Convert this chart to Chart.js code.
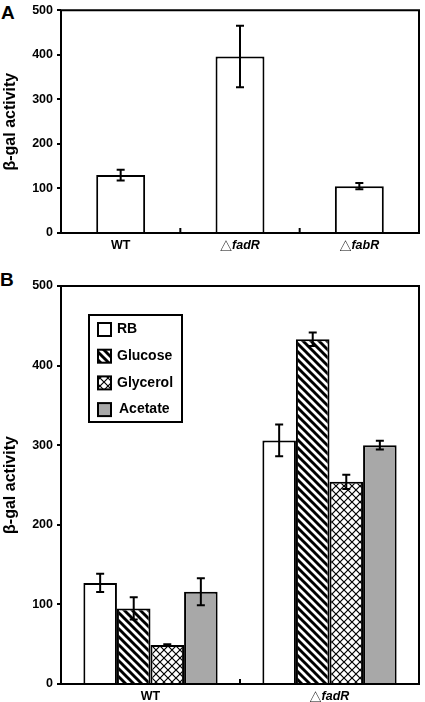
<!DOCTYPE html>
<html>
<head>
<meta charset="utf-8">
<script src="https://cdn.jsdelivr.net/npm/chart.js@4/dist/chart.umd.min.js"></script>
<style>
  body { margin: 0; background: #fff; width: 425px; height: 702px; position: relative; overflow: hidden; }
  canvas { position: absolute; left: 0; }
  #chartA { top: 0; }
  #chartB { top: 262px; }
  .panel { position: absolute; font: bold 19px "Liberation Sans", Arial, sans-serif; line-height: 19px; color: #000; }
</style>
</head>
<body>
<div class="panel" style="left:1px; top:3px;">A</div>
<div class="panel" style="left:0px; top:270px;">B</div>
<canvas id="chartA" width="425" height="265"></canvas>
<canvas id="chartB" width="425" height="440"></canvas>
<script>
// Panel A data
const categoriesA = ['WT', '△fadR', '△fabR'];
const activityA = [130, 396, 105];
const errorA = [12, 69, 7];

// Panel B data
const categoriesB = ['WT', '△fadR'];
const sourceLabels = ['RB', 'Glucose', 'Glycerol', 'Acetate'];
const rbValues = [127, 306];
const rbErrors = [11.5, 20];
const glucoseValues = [95, 433];
const glucoseErrors = [14, 8.5];
const glycerolValues = [49, 254];
const glycerolErrors = [1, 9];
const acetateValues = [116, 300];
const acetateErrors = [17, 5.5];

const yMin = 0, yMax = 500, yStep = 100;

const FONT = '"Liberation Sans", Arial, sans-serif';

// fill patterns
function stripePattern() {
  const s = 8;
  const c = document.createElement('canvas');
  c.width = s; c.height = s;
  const g = c.getContext('2d');
  g.fillStyle = '#fff';
  g.fillRect(0, 0, s, s);
  g.strokeStyle = '#000';
  g.lineWidth = 2.9;
  g.beginPath();
  g.moveTo(-3, -3); g.lineTo(s + 3, s + 3);
  g.moveTo(-3, s - 3); g.lineTo(3, s + 3);
  g.moveTo(s - 3, -3); g.lineTo(s + 3, 3);
  g.stroke();
  return g.createPattern(c, 'repeat');
}

function crossPattern() {
  const s = 8;
  const c = document.createElement('canvas');
  c.width = s; c.height = s;
  const g = c.getContext('2d');
  g.fillStyle = '#fff';
  g.fillRect(0, 0, s, s);
  g.strokeStyle = '#000';
  g.lineWidth = 1.2;
  g.beginPath();
  g.moveTo(0, 0); g.lineTo(s, s);
  g.moveTo(s, 0); g.lineTo(0, s);
  g.stroke();
  return g.createPattern(c, 'repeat');
}

// error bars, plot frame and small ticks between groups
const extras = {
  id: 'extras',
  afterDatasetsDraw(chart) {
    const ctx = chart.ctx;
    const y = chart.scales.y;
    const x = chart.scales.x;
    const area = chart.chartArea;
    ctx.save();
    ctx.strokeStyle = '#000';
    ctx.lineWidth = 2;
    chart.data.datasets.forEach((ds, di) => {
      const meta = chart.getDatasetMeta(di);
      meta.data.forEach((bar, i) => {
        const v = ds.data[i], e = ds.errors[i];
        const top = y.getPixelForValue(v + e);
        const bot = y.getPixelForValue(v - e);
        ctx.beginPath();
        ctx.moveTo(bar.x, top); ctx.lineTo(bar.x, bot);
        ctx.moveTo(bar.x - 4, top); ctx.lineTo(bar.x + 4, top);
        ctx.moveTo(bar.x - 4, bot); ctx.lineTo(bar.x + 4, bot);
        ctx.stroke();
      });
    });
    // frame
    ctx.strokeRect(area.left, area.top, area.right - area.left, area.bottom - area.top);
    // inner ticks between categories
    const n = chart.data.labels.length;
    for (let i = 1; i < n; i++) {
      const px = (x.getPixelForTick(i - 1) + x.getPixelForTick(i)) / 2;
      ctx.beginPath();
      ctx.moveTo(px, area.bottom);
      ctx.lineTo(px, area.bottom - 5);
      ctx.stroke();
    }
    // category labels, triangle plain and gene name bold italic
    ctx.fillStyle = '#000';
    ctx.textBaseline = 'middle';
    ctx.textAlign = 'left';
    const ly = area.bottom + chart.options.labelOffset;
    chart.data.labels.forEach((lab, i) => {
      const cx = x.getPixelForTick(i);
      let pre = '', rest = lab;
      if (lab[0] === '△') { pre = '△'; rest = lab.slice(1); }
      const preFont = '12px "Noto Sans CJK JP", "DejaVu Sans", sans-serif';
      const restFont = (pre ? 'italic ' : '') + 'bold 12.5px ' + FONT;
      ctx.font = preFont;
      const w1 = pre ? ctx.measureText(pre).width : 0;
      ctx.font = restFont;
      const w2 = ctx.measureText(rest).width;
      let sx = cx - (w1 + w2) / 2;
      if (pre) {
        ctx.font = preFont;
        ctx.fillText(pre, sx, ly);
      }
      ctx.font = restFont;
      ctx.fillText(rest, sx + w1, ly);
    });
    ctx.restore();
  }
};

// legend box for panel B
const boxLegend = {
  id: 'boxLegend',
  afterDraw(chart) {
    if (!chart.options.boxLegend) return;
    const ctx = chart.ctx;
    const area = chart.chartArea;
    const bx = area.left + 28, by = area.top + 29, bw = 93, bh = 107;
    ctx.save();
    ctx.fillStyle = '#fff';
    ctx.fillRect(bx, by, bw, bh);
    ctx.strokeStyle = '#000';
    ctx.lineWidth = 2;
    ctx.strokeRect(bx, by, bw, bh);
    ctx.font = 'bold 14px ' + FONT;
    ctx.textBaseline = 'middle';
    chart.data.datasets.forEach((ds, i) => {
      const cy = by + 14.5 + i * 26.7;
      ctx.fillStyle = ds.backgroundColor;
      ctx.fillRect(bx + 9, cy - 6.5, 13, 13);
      ctx.strokeRect(bx + 9, cy - 6.5, 13, 13);
      ctx.fillStyle = '#000';
      ctx.fillText(ds.label, bx + 28 + (i === 3 ? 2 : 0), cy);
    });
    ctx.restore();
  }
};

function makeOptions(padTop, xHeight, labelOffset, legend) {
  return {
    responsive: false,
    animation: false,
    labelOffset: labelOffset,
    boxLegend: legend,
    layout: { padding: { left: 0, right: 6, top: padTop, bottom: 0 } },
    plugins: { legend: { display: false }, tooltip: { enabled: false } },
    scales: {
      x: {
        offset: true,
        grid: { display: false },
        border: { display: false },
        ticks: { display: false },
        afterFit: s => { s.height = xHeight; }
      },
      y: {
        min: yMin,
        max: yMax,
        ticks: { stepSize: yStep, color: '#000', padding: 4, font: { family: FONT, size: 12.5, weight: 'bold', lineHeight: 1 } },
        grid: { drawOnChartArea: false, drawTicks: true, tickLength: 4, color: '#000', lineWidth: 2 },
        border: { display: false },
        title: { display: true, text: 'β-gal activity', color: '#000', padding: { top: 1, bottom: 0 }, font: { family: FONT, size: 16, weight: 'bold' } },
        afterFit: s => { s.width = 61; }
      }
    }
  };
}

new Chart(document.getElementById('chartA'), {
  type: 'bar',
  data: {
    labels: categoriesA,
    datasets: [{
      label: 'β-gal activity',
      data: activityA,
      errors: errorA,
      backgroundColor: '#fff',
      borderColor: '#000',
      borderWidth: 2,
      categoryPercentage: 0.41,
      barPercentage: 1
    }]
  },
  options: makeOptions(7, 32, 13, false),
  plugins: [extras]
});

const fillsB = ['#fff', stripePattern(), crossPattern(), '#a8a8a8'];
const valuesB = [rbValues, glucoseValues, glycerolValues, acetateValues];
const errorsB = [rbErrors, glucoseErrors, glycerolErrors, acetateErrors];

new Chart(document.getElementById('chartB'), {
  type: 'bar',
  data: {
    labels: categoriesB,
    datasets: sourceLabels.map((name, i) => ({
      label: name,
      data: valuesB[i],
      errors: errorsB[i],
      backgroundColor: fillsB[i],
      borderColor: '#000',
      borderWidth: 2,
      categoryPercentage: 0.75,
      barPercentage: 1
    }))
  },
  options: makeOptions(24, 18, 13, true),
  plugins: [extras, boxLegend]
});
</script>
</body>
</html>
